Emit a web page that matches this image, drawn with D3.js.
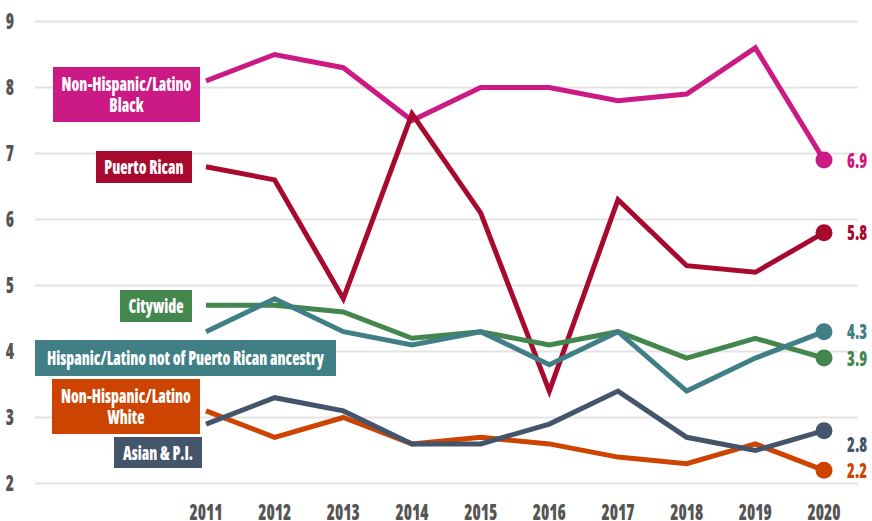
<!DOCTYPE html>
<html>
<head>
<meta charset="utf-8">
<script src="https://cdn.jsdelivr.net/npm/d3@7"></script>
<style>
body { margin: 0; background: #fff; }
text { font-family: "Open Sans", "DejaVu Sans", sans-serif; font-weight: 800; font-stretch: 75%; }
.grid line { stroke: #e3e3e3; stroke-width: 2px; }
</style>
</head>
<body>
<script>
// values
var years = [2011, 2012, 2013, 2014, 2015, 2016, 2017, 2018, 2019, 2020];
var black    = [8.1, 8.5, 8.3, 7.5, 8.0, 8.0, 7.8, 7.9, 8.6, 6.9];
var puerto   = [6.8, 6.6, 4.8, 7.6, 6.1, 3.4, 6.3, 5.3, 5.2, 5.8];
var citywide = [4.7, 4.7, 4.6, 4.2, 4.3, 4.1, 4.3, 3.9, 4.2, 3.9];
var hispOther= [4.3, 4.8, 4.3, 4.1, 4.3, 3.8, 4.3, 3.4, 3.9, 4.3];
var white    = [3.1, 2.7, 3.0, 2.6, 2.7, 2.6, 2.4, 2.3, 2.6, 2.2];
var asian    = [2.9, 3.3, 3.1, 2.6, 2.6, 2.9, 3.4, 2.7, 2.5, 2.8];
var yTicks = [2, 3, 4, 5, 6, 7, 8, 9];

var series = [
  {name: ["Non-Hispanic/Latino", "Black"], values: black, color: "#cc1a84",
   box: [53, 67, 147, 55], endDy: 0},
  {name: ["Puerto Rican"], values: puerto, color: "#a8092f",
   box: [96, 151, 96, 32], endDy: 0},
  {name: ["Citywide"], values: citywide, color: "#43874f",
   box: [120, 290, 72, 32], endDy: 0},
  {name: ["Hispanic/Latino not of Puerto Rican ancestry"], values: hispOther, color: "#417f86",
   box: [35, 340, 301, 36], endDy: 0},
  {name: ["Non-Hispanic/Latino", "White"], values: white, color: "#cc4400",
   box: [52, 379, 148, 55], endDy: 0},
  {name: ["Asian & P.I."], values: asian, color: "#44546b",
   box: [114, 437, 88, 31], endDy: 14}
];

var width = 872, height = 521;
var svg = d3.select("body").append("svg").attr("width", width).attr("height", height);

// the reference uses a narrow gothic face; squeeze ours to the same width
var probe = svg.append("text").style("font-size", "20px").text("Non-Hispanic/Latino");
var k = Math.min(1, 130 / probe.node().getComputedTextLength());
probe.remove();

// put a text at (cx, cy) squeezed horizontally by k
function label(cx, cy) {
  return svg.append("g").attr("transform", "translate(" + cx + "," + cy + ") scale(" + k + ",1)")
    .append("text");
}

var x = d3.scalePoint().domain(years).range([206, 824]);
var y = d3.scaleLinear().domain([2, 9]).range([483.5, 21.5]);

// grid
svg.append("g").attr("class", "grid")
  .selectAll("line").data(yTicks).join("line")
  .attr("x1", 35).attr("x2", 858)
  .attr("y1", d => y(d)).attr("y2", d => y(d));

// y labels
yTicks.forEach(function(t) {
  label(10, y(t)).attr("dy", "0.36em").attr("text-anchor", "middle")
    .attr("fill", "#555").style("font-size", "22px").text(t);
});

// x labels (the reference crops them at the bottom edge)
years.forEach(function(t) {
  label(x(t), 520).attr("text-anchor", "middle")
    .attr("fill", "#555").style("font-size", "22px").text(t);
});

var line = d3.line().x((d, i) => x(years[i])).y(d => y(d));

series.forEach(function(s) {
  svg.append("path").datum(s.values)
    .attr("d", line)
    .attr("fill", "none")
    .attr("stroke", s.color)
    .attr("stroke-width", 5)
    .attr("stroke-linejoin", "miter");
});

series.forEach(function(s) {
  var last = s.values[s.values.length - 1];
  svg.append("circle")
    .attr("cx", x(2020)).attr("cy", y(last)).attr("r", 8.5)
    .attr("fill", s.color);
  label(847, y(last) + s.endDy).attr("dy", "0.36em")
    .attr("fill", s.color).style("font-size", "21px")
    .text(d3.format(".1f")(last));

  var b = s.box;
  svg.append("rect").attr("x", b[0]).attr("y", b[1]).attr("width", b[2]).attr("height", b[3])
    .attr("fill", s.color);
  var cy = b[1] + b[3] / 2 - (s.name.length - 1) * 10.5;
  var t = label(b[0] + b[2] / 2, cy).attr("fill", "#fff").style("font-size", "20px")
    .attr("text-anchor", "middle");
  s.name.forEach(function(n, i) {
    t.append("tspan").attr("x", 0).attr("y", i * 21).attr("dy", "0.36em").text(n);
  });
});
</script>
</body>
</html>
